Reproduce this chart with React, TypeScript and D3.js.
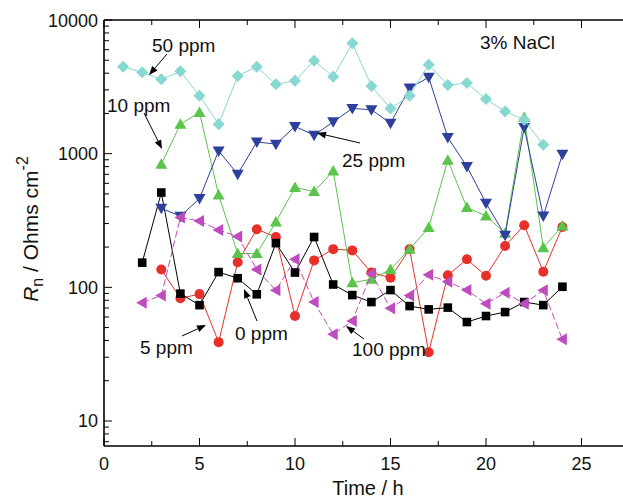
import React from "react";
import * as d3 from "d3";

// ---- data ----
const t0ppm = d3.range(3, 25);
const v0ppm = [136, 82.8, 89, 38.9, 154, 272, 238, 61, 159, 193, 189, 129, 118, 193, 32.7, 123, 162, 122, 204, 291, 131, 283];
const t5ppm = d3.range(2, 25);
const v5ppm = [153, 512, 89.7, 73.6, 130, 117, 88.7, 214, 129, 238, 105, 87.5, 77.6, 95.4, 72.4, 68.4, 70.5, 55, 61, 65.3, 77.6, 73.6, 101];
const t10ppm = d3.range(3, 25);
const v10ppm = [834, 1663, 2036, 491, 179, 179, 308, 558, 521, 743, 108, 115, 136, 193, 280, 894, 395, 342, 254, 1867, 198, 288];
const t25ppm = d3.range(3, 25);
const v25ppm = [391, 340, 462, 1049, 702, 1225, 1178, 1600, 1376, 1730, 2180, 2130, 1692, 3095, 3724, 1322, 802, 426, 245, 1571, 342, 991];
const t50ppm = d3.range(1, 24);
const v50ppm = [4470, 4057, 3597, 4130, 2710, 1663, 3808, 4470, 3300, 3510, 4960, 3760, 6690, 3205, 2180, 2710, 4625, 3260, 3375, 2560, 2070, 1792, 1164];
const t100ppm = d3.range(2, 25);
const v100ppm = [76.8, 87, 333, 314, 269, 240, 136, 95, 162, 77.6, 44.5, 56, 127, 69.6, 87, 124, 110, 95.4, 75.5, 91, 75.5, 95, 40.8];

const xTicks = [0, 5, 10, 15, 20, 25];
const yTicks = [10, 100, 1000, 10000];

type Series = { name: string; t: number[]; v: number[]; color: string; marker: string; dash?: string };
const series: Series[] = [
  { name: "0 ppm", t: t0ppm, v: v0ppm, color: "#e8302a", marker: "circle" },
  { name: "5 ppm", t: t5ppm, v: v5ppm, color: "#000000", marker: "square" },
  { name: "10 ppm", t: t10ppm, v: v10ppm, color: "#5cc44c", marker: "up" },
  { name: "25 ppm", t: t25ppm, v: v25ppm, color: "#2e3f9c", marker: "down" },
  { name: "50 ppm", t: t50ppm, v: v50ppm, color: "#86d8d0", marker: "diamond" },
  { name: "100 ppm", t: t100ppm, v: v100ppm, color: "#bf4cbf", marker: "left", dash: "7,3" },
];

// annotation layout (pixels)
const labels = [
  { text: "50 ppm", x: 152, y: 52, ax1: 167, ay1: 54, ax2: 149, ay2: 75 },
  { text: "10 ppm", x: 107, y: 112, ax1: 144, ay1: 113, ax2: 162, ay2: 149 },
  { text: "25 ppm", x: 342, y: 167, ax1: 360, ay1: 143, ax2: 317, ay2: 133 },
  { text: "0 ppm", x: 235, y: 340, ax1: 257, ay1: 321, ax2: 244, ay2: 289 },
  { text: "5 ppm", x: 140, y: 354, ax1: 182, ay1: 336, ax2: 206, ay2: 325 },
  { text: "100 ppm", x: 352, y: 356, ax1: 364, ay1: 339, ax2: 346, ay2: 326 },
];

const W = 623, H = 498;
const left = 104, top = 20, bottom = 446;
const pxPerUnit = 19.1;
const xMax = 27.5;
const yMin = 6.5, yMax = 10000;
const FONT = "'Liberation Sans', Arial, Helvetica, sans-serif";

function markerPath(kind: string, cx: number, cy: number): string {
  const s = 5;
  switch (kind) {
    case "square":
      return `M${cx - 4.3},${cy - 4.3}h8.6v8.6h-8.6Z`;
    case "up":
      return `M${cx},${cy - 6}L${cx + 6},${cy + 4.5}L${cx - 6},${cy + 4.5}Z`;
    case "down":
      return `M${cx},${cy + 6}L${cx + 6},${cy - 4.5}L${cx - 6},${cy - 4.5}Z`;
    case "left":
      return `M${cx - 6},${cy}L${cx + 4.5},${cy - 6}L${cx + 4.5},${cy + 6}Z`;
    case "diamond":
      return `M${cx},${cy - 6}L${cx + 6},${cy}L${cx},${cy + 6}L${cx - 6},${cy}Z`;
    default:
      return `M${cx - s},${cy}a${s},${s} 0 1,0 ${2 * s},0a${s},${s} 0 1,0 ${-2 * s},0Z`;
  }
}

function Arrow({ x1, y1, x2, y2 }: { x1: number; y1: number; x2: number; y2: number }) {
  const ang = Math.atan2(y2 - y1, x2 - x1);
  const L = 9, Wd = 3.5;
  const bx = x2 - L * Math.cos(ang), by = y2 - L * Math.sin(ang);
  const px = -Math.sin(ang) * Wd, py = Math.cos(ang) * Wd;
  return (
    <g>
      <line x1={x1} y1={y1} x2={bx} y2={by} stroke="#000" strokeWidth={1} />
      <path d={`M${x2},${y2}L${bx + px},${by + py}L${bx - px},${by - py}Z`} fill="#000" />
    </g>
  );
}

export default function App() {
  const x = d3.scaleLinear().domain([0, xMax]).range([left, left + pxPerUnit * xMax]);
  const y = d3.scaleLog().domain([yMin, yMax]).range([bottom, top]);
  const right = x(xMax);

  const minorX = d3.range(0, xMax + 0.01, 2.5).filter((d) => d % 5 !== 0);
  const minorY: number[] = [];
  for (const dec of [1, 10, 100, 1000]) for (let k = 2; k <= 9; k++) minorY.push(dec * k);
  const minorYv = minorY.filter((v) => v >= yMin && v <= yMax);

  return (
    <svg width={W} height={H} style={{ position: "absolute", left: 0, top: 0, background: "#fff" }} fontFamily={FONT}>
      {/* series */}
      {series.map((s) => {
        const pts = s.t.map((t, i) => [x(t), y(s.v[i])] as [number, number]);
        const line = d3.line()(pts) || "";
        return (
          <g key={s.name}>
            <path d={line} fill="none" stroke={s.color} strokeWidth={1} strokeDasharray={s.dash} />
            {pts.map((p, i) => (
              <path key={i} d={markerPath(s.marker, p[0], p[1])} fill={s.color} />
            ))}
          </g>
        );
      })}

      {/* frame */}
      <g stroke="#000" strokeWidth={1.6} fill="none">
        <line x1={left} y1={top} x2={right} y2={top} />
        <line x1={left} y1={bottom} x2={right} y2={bottom} />
        <line x1={left} y1={top} x2={left} y2={bottom} />
      </g>

      {/* ticks */}
      <g stroke="#000" strokeWidth={1}>
        {xTicks.map((t) => (
          <g key={t}>
            <line x1={x(t)} x2={x(t)} y1={bottom} y2={bottom - 8} />
            <line x1={x(t)} x2={x(t)} y1={top} y2={top + 8} />
          </g>
        ))}
        {minorX.map((t) => (
          <g key={t}>
            <line x1={x(t)} x2={x(t)} y1={bottom} y2={bottom - 5} />
            <line x1={x(t)} x2={x(t)} y1={top} y2={top + 5} />
          </g>
        ))}
        {yTicks.map((v) => (
          <line key={v} x1={left} x2={left + 8} y1={y(v)} y2={y(v)} />
        ))}
        {minorYv.map((v) => (
          <line key={v} x1={left} x2={left + 5} y1={y(v)} y2={y(v)} />
        ))}
      </g>

      {/* tick labels */}
      <g fontSize={18} fill="#111">
        {xTicks.map((t) => (
          <text key={t} x={x(t)} y={bottom + 24} textAnchor="middle">{t}</text>
        ))}
        {yTicks.map((v) => (
          <text key={v} x={left - 6} y={y(v) + 6.5} textAnchor="end">{v}</text>
        ))}
      </g>

      {/* axis titles */}
      <text x={368} y={495} fontSize={20} textAnchor="middle" fill="#111">Time / h</text>
      <text transform={`translate(38,229) rotate(-90)`} fontSize={21} textAnchor="middle" fill="#111">
        <tspan fontStyle="italic">R</tspan>
        <tspan fontSize={16} dy={5}>n</tspan>
        <tspan dy={-5}> / Ohms cm</tspan>
        <tspan fontSize={16} dy={-10}>-2</tspan>
      </text>

      {/* annotations */}
      <g fontSize={19} fill="#111">
        {labels.map((l) => (
          <g key={l.text}>
            <text x={l.x} y={l.y}>{l.text}</text>
            <Arrow x1={l.ax1} y1={l.ay1} x2={l.ax2} y2={l.ay2} />
          </g>
        ))}
        <text x={480} y={49}>3% NaCl</text>
      </g>
    </svg>
  );
}
